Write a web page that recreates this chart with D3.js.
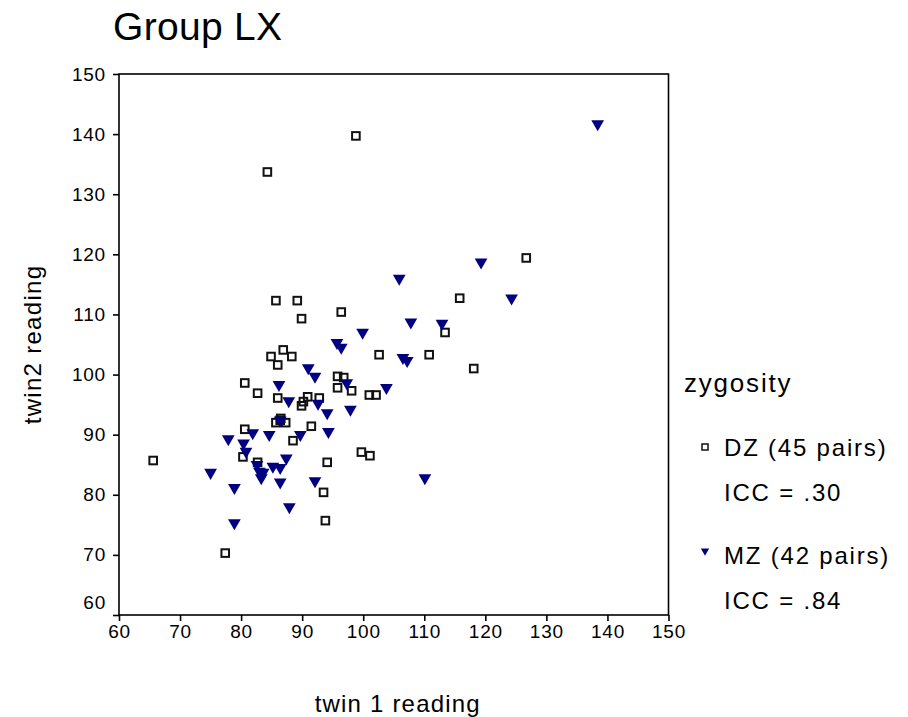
<!DOCTYPE html>
<html>
<head>
<meta charset="utf-8">
<script src="https://cdn.jsdelivr.net/npm/d3@7"></script>
<style>
	body { margin: 0; background: #fff; }
	text { font-family: "Liberation Sans", Arial, sans-serif; fill: #000; }
</style>
</head>
<body>
<div id="chart"></div>
<script>
// twin 1 / twin 2 reading scores
var dzX = [84.3, 98.8, 65.6, 77.4, 126.7, 115.8, 118.1, 113.4, 110.8, 102.6,
	85.7, 89.2, 89.9, 96.4, 84.9, 86.9, 88.3, 86.0, 80.6, 82.7,
	86.0, 90.9, 92.8, 89.9, 90.2, 95.8, 96.8, 95.8, 98.1, 101.0,
	102.1, 85.7, 86.5, 87.3, 91.5, 80.6, 88.5, 80.3, 82.7, 94.1,
	93.5, 93.8, 99.7, 101.1, 86.4];
var dzY = [133.7, 139.7, 85.7, 70.3, 119.4, 112.7, 101.0, 107.0, 103.3, 103.3,
	112.3, 112.3, 109.3, 110.4, 103.0, 104.1, 103.0, 101.6, 98.6, 96.9,
	96.1, 96.3, 96.1, 94.8, 95.5, 99.7, 99.5, 97.8, 97.3, 96.6,
	96.6, 92.0, 92.7, 92.0, 91.4, 90.9, 89.0, 86.3, 85.4, 85.4,
	80.4, 75.7, 87.1, 86.5, 92.4];

var mzX = [138.4, 119.3, 105.9, 124.3, 107.8, 112.9, 99.9, 95.7, 96.4, 106.5,
	107.2, 97.3, 103.8, 97.9, 91.0, 92.1, 86.2, 87.8, 92.6, 94.1,
	94.3, 89.7, 84.6, 81.9, 77.9, 80.4, 80.8, 86.4, 75.0, 78.9,
	78.9, 82.6, 83.0, 83.3, 85.2, 86.4, 87.4, 86.4, 87.9, 92.1,
	110.1, 83.6];
var mzY = [141.7, 118.7, 116.0, 112.7, 108.7, 108.5, 107.0, 105.3, 104.5, 102.8,
	102.3, 98.6, 97.8, 94.2, 101.1, 99.7, 98.3, 95.6, 95.2, 93.6,
	90.5, 90.0, 90.0, 90.3, 89.3, 88.6, 87.2, 92.4, 83.7, 81.2,
	75.3, 85.0, 83.9, 82.8, 84.7, 84.5, 86.1, 82.1, 78.0, 82.3,
	82.8, 83.7];

var tickVals = [60, 70, 80, 90, 100, 110, 120, 130, 140, 150];
var legendTitle = "zygosity";
var dzLabel = ["DZ (45 pairs)", "ICC = .30"];
var mzLabel = ["MZ (42 pairs)", "ICC = .84"];

var width = 908, height = 717;
var navy = "#000080";

var svg = d3.select("#chart").append("svg")
	.attr("width", width)
	.attr("height", height);

var x = d3.scaleLinear().domain([60, 150]).range([119, 668.5]);
var y = d3.scaleLinear().domain([60, 150]).range([615, 74]);

svg.append("text").attr("x", 113).attr("y", 40)
	.style("font-size", "39px").style("letter-spacing", "0.3px").text("Group LX");

// frame
svg.append("rect")
	.attr("x", x(60)).attr("y", y(150))
	.attr("width", x(150) - x(60)).attr("height", y(60) - y(150))
	.attr("fill", "none").attr("stroke", "#000").attr("stroke-width", 1.6);

var yAxis = svg.append("g").attr("transform", "translate(" + x(60) + ",0)")
	.call(d3.axisLeft(y).tickValues(tickVals).tickSize(6).tickPadding(7));
var xAxis = svg.append("g").attr("transform", "translate(0," + y(60) + ")")
	.call(d3.axisBottom(x).tickValues(tickVals).tickSize(6).tickPadding(4));

[yAxis, xAxis].forEach(function (g) {
	g.select(".domain").remove();
	g.selectAll(".tick line").attr("stroke", "#000").attr("stroke-width", 1.6);
	g.selectAll(".tick text")
		.style("font-size", "19px")
		.style("letter-spacing", "0.8px")
		.style("font-family", "'Liberation Sans', Arial, sans-serif");
});
// bottom y label sits higher, like the original
yAxis.selectAll(".tick text").filter(function (d) { return d === 60; })
	.attr("y", -13);

svg.append("text")
	.attr("x", (x(60) + x(150)) / 2 + 4).attr("y", 712)
	.attr("text-anchor", "middle")
	.style("font-size", "24px").style("letter-spacing", "1.2px")
	.text("twin 1 reading");

svg.append("text")
	.attr("transform", "translate(41," + (y(60) + y(150)) / 2 + ") rotate(-90)")
	.attr("text-anchor", "middle")
	.style("font-size", "24px").style("letter-spacing", "1.3px")
	.text("twin2 reading");

// points
var dz = dzX.map(function (v, i) { return [v, dzY[i]]; });
var mz = mzX.map(function (v, i) { return [v, mzY[i]]; });

var tri = d3.symbol().type(d3.symbolTriangle).size(70);

svg.append("g").selectAll("rect").data(dz).enter().append("rect")
	.attr("x", function (d) { return x(d[0]) - 3.8; })
	.attr("y", function (d) { return y(d[1]) - 3.8; })
	.attr("width", 7.6).attr("height", 7.6)
	.attr("fill", "none").attr("stroke", "#111").attr("stroke-width", 2);

svg.append("g").selectAll("path").data(mz).enter().append("path")
	.attr("d", tri)
	.attr("transform", function (d) { return "translate(" + x(d[0]) + "," + y(d[1]) + ") rotate(180)"; })
	.attr("fill", navy);

// legend
var lg = svg.append("g");
lg.append("text").attr("x", 684).attr("y", 392)
	.style("font-size", "26px").style("letter-spacing", "1.8px").text(legendTitle);

lg.append("rect").attr("x", 702).attr("y", 444).attr("width", 6).attr("height", 6)
	.attr("fill", "none").attr("stroke", "#111").attr("stroke-width", 1.5);
lg.append("path").attr("d", d3.symbol().type(d3.symbolTriangle).size(30))
	.attr("transform", "translate(705,551) rotate(180)").attr("fill", navy);

[[dzLabel, 456], [mzLabel, 564]].forEach(function (it) {
	it[0].forEach(function (s, j) {
		lg.append("text").attr("x", 724).attr("y", it[1] + j * 45)
			.style("font-size", "24px").style("letter-spacing", "1.8px").text(s);
	});
});
</script>
</body>
</html>
